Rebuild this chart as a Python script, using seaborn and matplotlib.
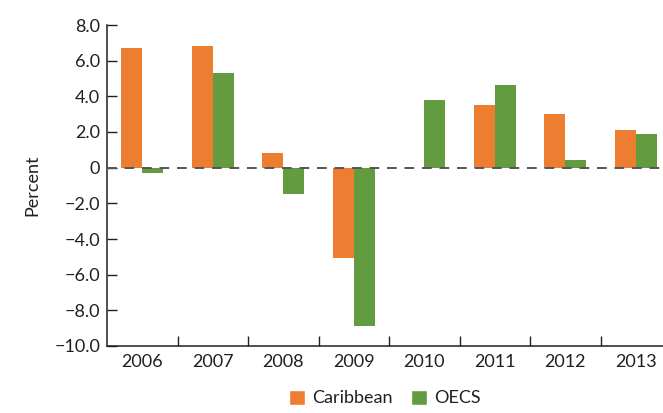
import pandas as pd
import numpy as np
import matplotlib
matplotlib.use("Agg")
import matplotlib.pyplot as plt
import seaborn as sns
from matplotlib.ticker import FixedLocator, FuncFormatter
from matplotlib.patches import Patch

# data
years = ["2006", "2007", "2008", "2009", "2010", "2011", "2012", "2013"]
caribbean = [6.7, 6.8, 0.8, -5.05, 0.0, 3.5, 3.0, 2.1]
oecs = [-0.3, 5.3, -1.5, -8.9, 3.8, 4.65, 0.45, 1.9]
series = ["Caribbean", "OECS"]
colors = ["#ED7D31", "#629B40"]
yticks = [-10, -8, -6, -4, -2, 0, 2, 4, 6, 8]

df = pd.DataFrame({
    "year": years * 2,
    "value": caribbean + oecs,
    "series": [series[0]] * len(years) + [series[1]] * len(years),
})

sns.set_style("ticks")
plt.rcParams["font.family"] = ["Lato", "DejaVu Sans"]
text_col = "#231F20"
fs = 13

fig = plt.figure(figsize=(6.63, 4.13), dpi=100)
ax = fig.add_axes([107 / 663, 67 / 413, 1 - 107 / 663, (346 - 25) / 413])

sns.barplot(data=df, x="year", y="value", hue="series", order=years,
            hue_order=series, palette=colors, width=0.6, gap=0,
            saturation=1, linewidth=0, edgecolor="none",
            legend=False, ax=ax)

# zero reference line
ax.axhline(0, color="#555555", lw=1.4, ls=(0, (5, 4)), zorder=3)

ax.set_xlim(-0.5, (663 - 107) / 70.5 - 0.5)
ax.set_ylim(-10, 8)
ax.yaxis.set_major_locator(FixedLocator(yticks))
ax.yaxis.set_major_formatter(FuncFormatter(
    lambda v, p: "0" if v == 0 else f"{v:.1f}".replace("-", "\u2212")))

ax.xaxis.set_minor_locator(FixedLocator(np.arange(0.5, len(years) - 0.5, 1)))
ax.tick_params(axis="x", which="major", length=0, pad=6,
               labelsize=fs, labelcolor=text_col)
ax.tick_params(axis="x", which="minor", direction="in", length=7,
               width=1, color=text_col)
ax.tick_params(axis="y", direction="in", length=7, width=1,
               color=text_col, labelsize=fs, labelcolor=text_col, pad=5)

sns.despine(ax=ax, top=True, right=True)
for s in ["left", "bottom"]:
    ax.spines[s].set_color(text_col)
    ax.spines[s].set_linewidth(1.1)

ax.set_xlabel("")
ax.set_ylabel("Percent", fontsize=fs, color=text_col, labelpad=10)

handles = [Patch(facecolor=c, label=s) for s, c in zip(series, colors)]
fig.legend(handles=handles, loc="center", bbox_to_anchor=(385 / 663, 1 - 398 / 413),
           ncol=2, frameon=False, fontsize=fs, handlelength=0.9,
           handleheight=0.9, handletextpad=0.4, columnspacing=1.0,
           labelcolor=text_col)

fig.savefig("out.png", dpi=100)
